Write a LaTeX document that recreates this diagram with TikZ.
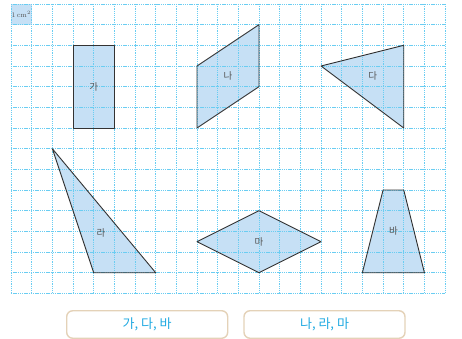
\documentclass[tikz,border=0pt]{standalone}
\usepackage{fontspec}
\newfontfamily\kr{Noto Sans CJK KR}
\definecolor{gridc}{HTML}{6ACDF2}
\definecolor{shapefill}{HTML}{C6E0F5}
\definecolor{edgec}{HTML}{333333}
\definecolor{labc}{HTML}{555555}
\definecolor{btnborder}{HTML}{E4D2B8}
\definecolor{btntext}{HTML}{1FA9E1}
\tikzset{
  fig/.style={fill=shapefill},
  figedge/.style={draw=edgec, line width=0.9pt, line join=round},
  lab/.style={font=\kr\fontsize{9.5}{10}\selectfont, text=labc, inner sep=0pt},
  gridline/.style={draw=gridc, line width=0.8pt, dash pattern=on 1.3pt off 0.9pt},
  btn/.style={draw=btnborder, line width=1.4pt, rounded corners=6pt, minimum width=161pt, minimum height=27.5pt, inner sep=0pt, text=btntext, font=\kr\fontsize{13}{14}\selectfont},
}
\begin{document}
\begin{tikzpicture}[x=1pt,y=1pt]
\useasboundingbox (0,0) rectangle (462,339);
\begin{scope}[shift={(11,335)}, x=20.67pt, y=-20.67pt]
  % fills
  \fill[fig] (0,0) rectangle (1,1);
  \fill[fig] (3,2) rectangle (5,6);
  \fill[fig] (9,3) -- (12,1) -- (12,4) -- (9,6) -- cycle;
  \fill[fig] (15,3) -- (19,2) -- (19,6) -- cycle;
  \fill[fig] (2,7) -- (4,13) -- (7,13) -- cycle;
  \fill[fig] (9,11.5) -- (12,10) -- (15,11.5) -- (12,13) -- cycle;
  \fill[fig] (18,9) -- (19,9) -- (20,13) -- (17,13) -- cycle;
  % grid
  \foreach \i in {0,...,21} { \draw[gridline] (\i,0) -- (\i,14); }
  \foreach \j in {0,...,14} { \draw[gridline] (0,\j) -- (21,\j); }
  % outlines
  \draw[figedge] (3,2) rectangle (5,6);
  \draw[figedge] (9,3) -- (12,1) -- (12,4) -- (9,6) -- cycle;
  \draw[figedge] (15,3) -- (19,2) -- (19,6) -- cycle;
  \draw[figedge] (2,7) -- (4,13) -- (7,13) -- cycle;
  \draw[figedge] (9,11.5) -- (12,10) -- (15,11.5) -- (12,13) -- cycle;
  \draw[figedge] (18,9) -- (19,9) -- (20,13) -- (17,13) -- cycle;
  % labels
  \node[font=\fontsize{7}{7}\selectfont, text=labc, inner sep=0pt] (unit) at (0.5,0.5) {1\,cm$^2$};
  \node[lab] (ga) at (4,4.0) {가};
  \node[lab] (na) at (10.5,3.5) {나};
  \node[lab] (da) at (17.5,3.5) {다};
  \node[lab] (ra) at (4.35,11.1) {라};
  \node[lab] (ma) at (12,11.5) {마};
  \node[lab] (ba) at (18.5,11) {바};
\end{scope}
\node[btn] (b1) at (147.2,14.5) {가, 다, 바};
\node[btn] (b2) at (324.5,14.5) {나, 라, 마};
\end{tikzpicture}
\end{document}
